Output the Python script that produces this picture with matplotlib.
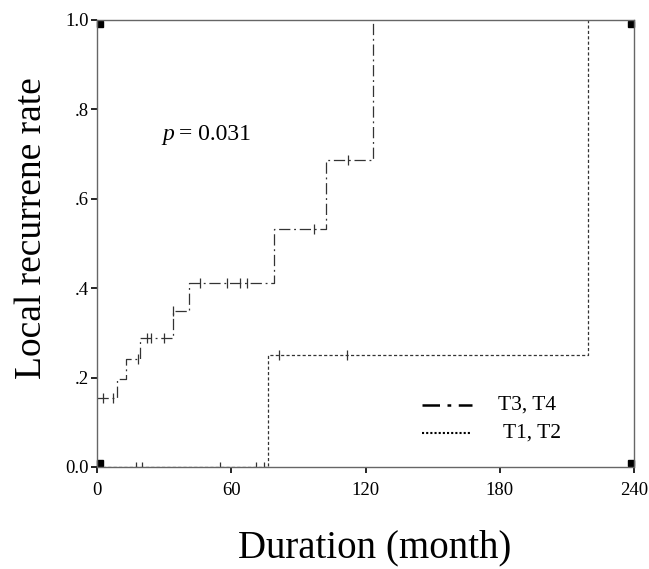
import numpy as np
import matplotlib
matplotlib.use("Agg")
import matplotlib.pyplot as plt

plt.rcParams['font.family'] = ['Liberation Serif', 'DejaVu Serif']

# T3, T4 group: step times (months) and cumulative recurrence levels
t34_steps = [0, 8.8, 13, 19.2, 34, 41.2, 79.3, 102.2, 123.2]
t34_levels = [0.155, 0.196, 0.242, 0.289, 0.348, 0.412, 0.532, 0.687, 1.0]
t34_end = 123.2
t34_cens_t = [2.8, 7.0, 18.2, 22.5, 24.0, 29.8, 34.0, 46.1, 58.0, 64.0, 67.0, 97.1, 112.0]

# T1, T2 group
t12_steps = [0, 76.2, 219.5]
t12_levels = [0.0, 0.25, 1.0]
t12_end = 219.5
t12_cens_t = [17.3, 20.3, 55.0, 71.1, 74.7, 81.1, 111.7]

xticks = [0, 60, 120, 180, 240]
yticks = [0.0, 0.2, 0.4, 0.6, 0.8, 1.0]
ytick_labels = ['0.0', '.2', '.4', '.6', '.8', '1.0']


def level_at(steps, levels, t):
	idx = np.searchsorted(steps, t, side='right') - 1
	return levels[idx]


fig = plt.figure(figsize=(6.49, 5.69), dpi=100)
ax = fig.add_axes([0.1495, 0.1793, 0.8275, 0.7856])

line_col = '#333333'
x34 = t34_steps + [t34_end]
y34 = t34_levels + [t34_levels[-1]]
ax.step(x34, y34, where='post', color=line_col, lw=0.9,
	linestyle=(0, (9, 3, 1.5, 3)))
x12 = t12_steps + [t12_end]
y12 = t12_levels + [t12_levels[-1]]
ax.step(x12, y12, where='post', color=line_col, lw=0.9,
	linestyle=(0, (2.5, 1.8)))

# censor marks
c34_y = [level_at(t34_steps, t34_levels, t) for t in t34_cens_t]
ax.plot(t34_cens_t, c34_y, linestyle='none', marker='|', ms=7, mew=0.9, color=line_col)
c12_y = [level_at(t12_steps, t12_levels, t) for t in t12_cens_t]
ax.plot(t12_cens_t, c12_y, linestyle='none', marker='|', ms=7, mew=0.9, color=line_col)

# corner squares
ax.plot([1.5, 1.5, 238.5, 238.5], [0.008, 0.992, 0.008, 0.992], linestyle='none',
	marker='s', ms=5, color='black', clip_on=False)

ax.set_xlim(0, 240)
ax.set_ylim(0, 1.0)
ax.set_xticks(xticks)
ax.set_xticklabels([str(v) for v in xticks])
ax.set_yticks(yticks)
ax.set_yticklabels(ytick_labels)
ax.tick_params(direction='out', length=4, width=1.2, labelsize=13.5, color='black')
ax.tick_params(axis='x', pad=7)
ax.tick_params(axis='y', pad=2)
for sp in ax.spines.values():
	sp.set_color('#666666')
	sp.set_linewidth(1.0)

ax.set_xlabel('Duration (month)', fontsize=28)
ax.xaxis.set_label_coords(0.517, -0.14)
ax.set_ylabel('Local recurrene rate', fontsize=27)
ax.yaxis.set_label_coords(-0.09, 0.535)

ax.text(0.121, 0.743, 'p', transform=ax.transAxes, fontsize=17, ha='left', va='center',
	style='italic')
ax.text(0.152, 0.743, '= 0.031', transform=ax.transAxes, fontsize=17, ha='left', va='center')

# legend drawn by hand
ax.plot([145.3, 167.6], [0.139, 0.139], color='black', lw=1.8,
	linestyle=(0, (7, 3, 1.5, 3, 3.5, 0)))
ax.plot([145.3, 167.0], [0.076, 0.076], color='black', lw=1.5, linestyle=(0, (1, 1)))
ax.text(179.2, 0.139, 'T3, T4', fontsize=15.5, va='center', ha='left')
ax.text(181.5, 0.076, 'T1, T2', fontsize=15.5, va='center', ha='left')

fig.savefig('out.png', dpi=100, facecolor='white')
